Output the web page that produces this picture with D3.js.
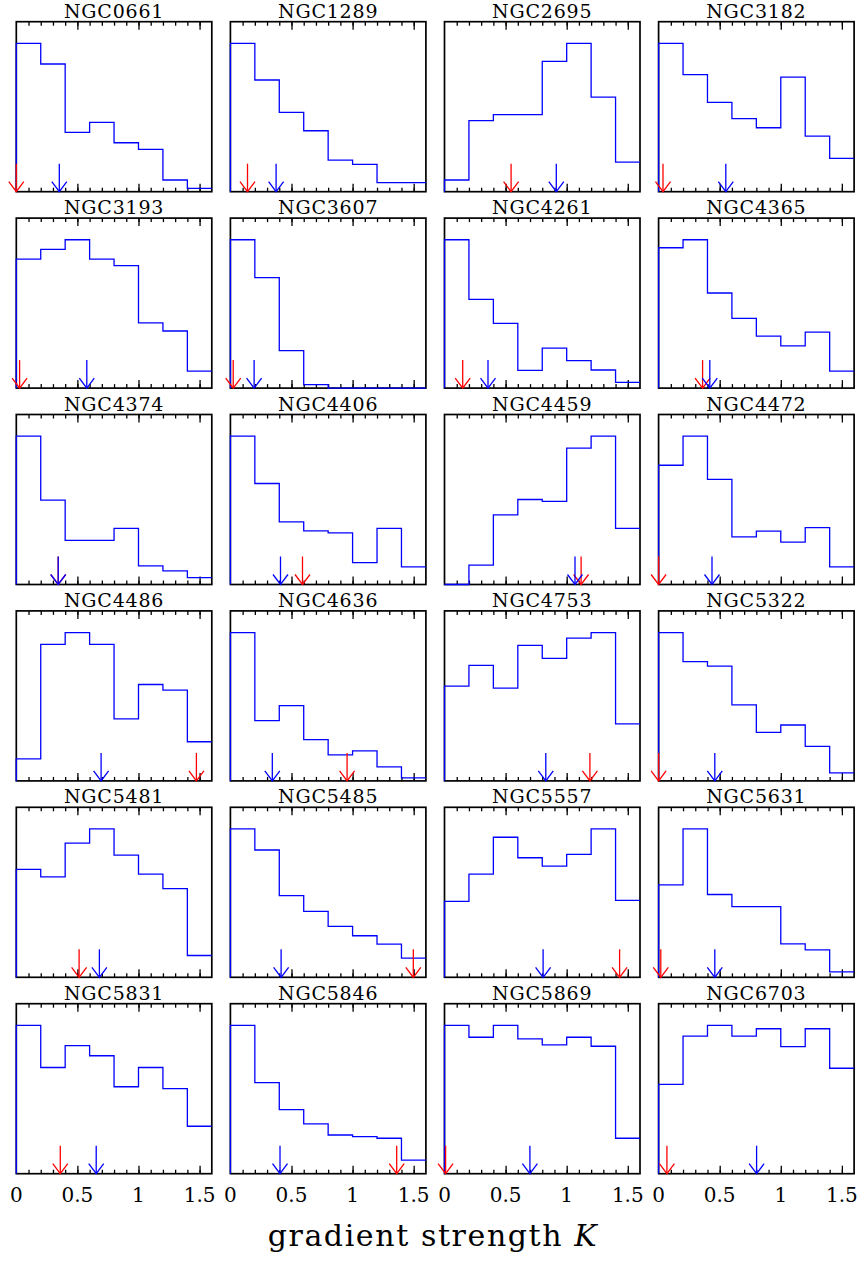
<!DOCTYPE html>
<html>
<head>
<meta charset="utf-8">
<script src="https://cdn.jsdelivr.net/npm/d3@7"></script>
<style>
  html, body { margin: 0; padding: 0; background: #fff; }
  svg { display: block; font-family: "DejaVu Serif", serif; }
</style>
</head>
<body>
<svg id="chart" width="861" height="1261"></svg>
<script>
const GALAXIES = [
  "NGC0661", "NGC1289", "NGC2695", "NGC3182",
  "NGC3193", "NGC3607", "NGC4261", "NGC4365",
  "NGC4374", "NGC4406", "NGC4459", "NGC4472",
  "NGC4486", "NGC4636", "NGC4753", "NGC5322",
  "NGC5481", "NGC5485", "NGC5557", "NGC5631",
  "NGC5831", "NGC5846", "NGC5869", "NGC6703",
];
const BIN_EDGES = [0, 0.2, 0.4, 0.6, 0.8, 1.0, 1.2, 1.4, 1.6];
// bin heights, each panel scaled to its own peak
const HIST = [
  [1.0, 0.861, 0.40, 0.467, 0.330, 0.285, 0.079, 0.022],
  [1.0, 0.753, 0.535, 0.411, 0.213, 0.184, 0.061, 0.061],
  [0.079, 0.479, 0.519, 0.519, 0.879, 1.0, 0.638, 0.20],
  [1.0, 0.789, 0.602, 0.492, 0.431, 0.773, 0.375, 0.225],
  [0.87, 0.935, 1.0, 0.87, 0.825, 0.44, 0.385, 0.115],
  [1.0, 0.745, 0.253, 0.023, 0, 0, 0, 0],
  [1.0, 0.598, 0.436, 0.12, 0.269, 0.185, 0.122, 0.038],
  [0.946, 1.0, 0.641, 0.47, 0.35, 0.284, 0.377, 0.115],
  [1.0, 0.569, 0.297, 0.297, 0.378, 0.126, 0.092, 0.047],
  [1.0, 0.681, 0.422, 0.362, 0.348, 0.148, 0.378, 0.119],
  [0, 0.13, 0.47, 0.573, 0.56, 0.919, 1.0, 0.378],
  [0.804, 1.0, 0.708, 0.321, 0.36, 0.285, 0.384, 0.119],
  [0.149, 0.921, 1.0, 0.921, 0.418, 0.65, 0.612, 0.264],
  [1.0, 0.406, 0.508, 0.278, 0.176, 0.203, 0.095, 0.02],
  [0.639, 0.779, 0.625, 0.914, 0.826, 0.962, 1.0, 0.384],
  [1.0, 0.804, 0.774, 0.512, 0.327, 0.377, 0.233, 0.054],
  [0.727, 0.677, 0.905, 1.0, 0.824, 0.695, 0.598, 0.147],
  [1.0, 0.858, 0.551, 0.445, 0.343, 0.28, 0.223, 0.129],
  [0.512, 0.695, 0.944, 0.806, 0.749, 0.828, 1.0, 0.519],
  [0.623, 1.0, 0.558, 0.476, 0.476, 0.226, 0.185, 0.036],
  [1.0, 0.716, 0.864, 0.795, 0.586, 0.716, 0.573, 0.32],
  [1.0, 0.614, 0.432, 0.336, 0.261, 0.25, 0.239, 0.091],
  [1.0, 0.92, 1.0, 0.909, 0.868, 0.92, 0.859, 0.239],
  [0.602, 0.927, 1.0, 0.927, 0.977, 0.857, 0.977, 0.711],
];
const RED_K = [
  0.0, 0.14, 0.545, 0.036, 0.027, 0.023, 0.149, 0.36,
  0.343, 0.59, 1.118, 0.0, 1.474, 0.955, 1.19, 0.0,
  0.514, 1.497, 1.433, 0.018, 0.36, 1.361, 0.009, 0.068,
];
const BLUE_K = [
  0.352, 0.374, 0.915, 0.55, 0.577, 0.194, 0.356, 0.419,
  0.343, 0.41, 1.068, 0.437, 0.694, 0.343, 0.829, 0.46,
  0.68, 0.415, 0.807, 0.46, 0.654, 0.406, 0.699, 0.802,
];
const TICK_LABELS = [0, 0.5, 1, 1.5];
const X_LABEL = "gradient strength ";

const COLS = 4;
const ROWS = 6;
const LEFT = 16.3;
const COL_STEP = 214.1;
const TOP = 21.7;
const ROW_STEP = 196.4;
const PANEL_W = 195.5;
const PANEL_H = 170;

const svg = d3.select("#chart");

const x = d3.scaleLinear().domain([0, 1.6]).range([0, PANEL_W]);
const y = d3.scaleLinear().domain([0, 1.146]).range([PANEL_H, 0]);

const stepLine = d3.line()
  .x((d) => x(d[0]))
  .y((d) => y(d[1]))
  .curve(d3.curveStepAfter);

GALAXIES.forEach((name, i) => {
  const col = i % COLS;
  const row = Math.floor(i / COLS);
  const g = svg.append("g")
    .attr("transform", `translate(${LEFT + col * COL_STEP},${TOP + row * ROW_STEP})`);

  g.append("text")
    .attr("x", PANEL_W / 2)
    .attr("y", -3.9)
    .attr("text-anchor", "middle")
    .attr("font-size", 19)
    .attr("letter-spacing", 0.8)
    .text(name);

  // ticks on top and bottom, pointing inward
  const minor = d3.range(1, 16).map((k) => k / 10);
  g.append("g")
    .call(d3.axisTop(x).tickValues(minor).tickSize(-4).tickFormat(""))
    .call(styleTicks);
  g.append("g")
    .attr("transform", `translate(0,${PANEL_H})`)
    .call(d3.axisBottom(x).tickValues(minor).tickSize(-4).tickFormat(""))
    .call(styleTicks);
  g.append("g")
    .call(d3.axisTop(x).tickValues([0.5, 1, 1.5]).tickSize(-8).tickFormat(""))
    .call(styleTicks);
  g.append("g")
    .attr("transform", `translate(0,${PANEL_H})`)
    .call(d3.axisBottom(x).tickValues([0.5, 1, 1.5]).tickSize(-8).tickFormat(""))
    .call(styleTicks);

  g.append("rect")
    .attr("width", PANEL_W)
    .attr("height", PANEL_H)
    .attr("fill", "none")
    .attr("stroke", "#000")
    .attr("stroke-width", 1.7);

  const pts = [[0, 0]].concat(HIST[i].map((v, b) => [BIN_EDGES[b], v]));
  pts.push([BIN_EDGES[BIN_EDGES.length - 1], HIST[i][HIST[i].length - 1]]);
  g.append("path")
    .attr("d", stepLine(pts))
    .attr("fill", "none")
    .attr("stroke", "#0000ff")
    .attr("stroke-width", 1.3);

  drawArrow(g, RED_K[i], "#ff0000");
  drawArrow(g, BLUE_K[i], "#0000ff");

  if (row === ROWS - 1) {
    g.selectAll("text.tick-label")
      .data(TICK_LABELS)
      .join("text")
      .attr("class", "tick-label")
      .attr("x", (d) => x(d))
      .attr("y", PANEL_H + 28.3)
      .attr("text-anchor", "middle")
      .attr("font-size", 20)
      .text((d) => String(d));
  }
});

const label = svg.append("text")
  .attr("x", 433)
  .attr("y", 1246)
  .attr("text-anchor", "middle")
  .attr("font-size", 30)
  .attr("letter-spacing", 1.6);
label.append("tspan").text(X_LABEL);
label.append("tspan").attr("font-style", "italic").text("K");

function styleTicks(sel) {
  sel.select(".domain").remove();
  sel.selectAll("line").attr("stroke", "#000").attr("stroke-width", 1.3);
}

function drawArrow(g, k, color) {
  const px = x(k);
  const base = PANEL_H;
  const arrow = g.append("g")
    .attr("fill", "none")
    .attr("stroke", color)
    .attr("stroke-width", 1.3);
  arrow.append("line")
    .attr("x1", px).attr("x2", px)
    .attr("y1", base - 28).attr("y2", base);
  arrow.append("path")
    .attr("d", `M${px - 7.5},${base - 10}L${px},${base}L${px + 7.5},${base - 10}`);
}
</script>
</body>
</html>
